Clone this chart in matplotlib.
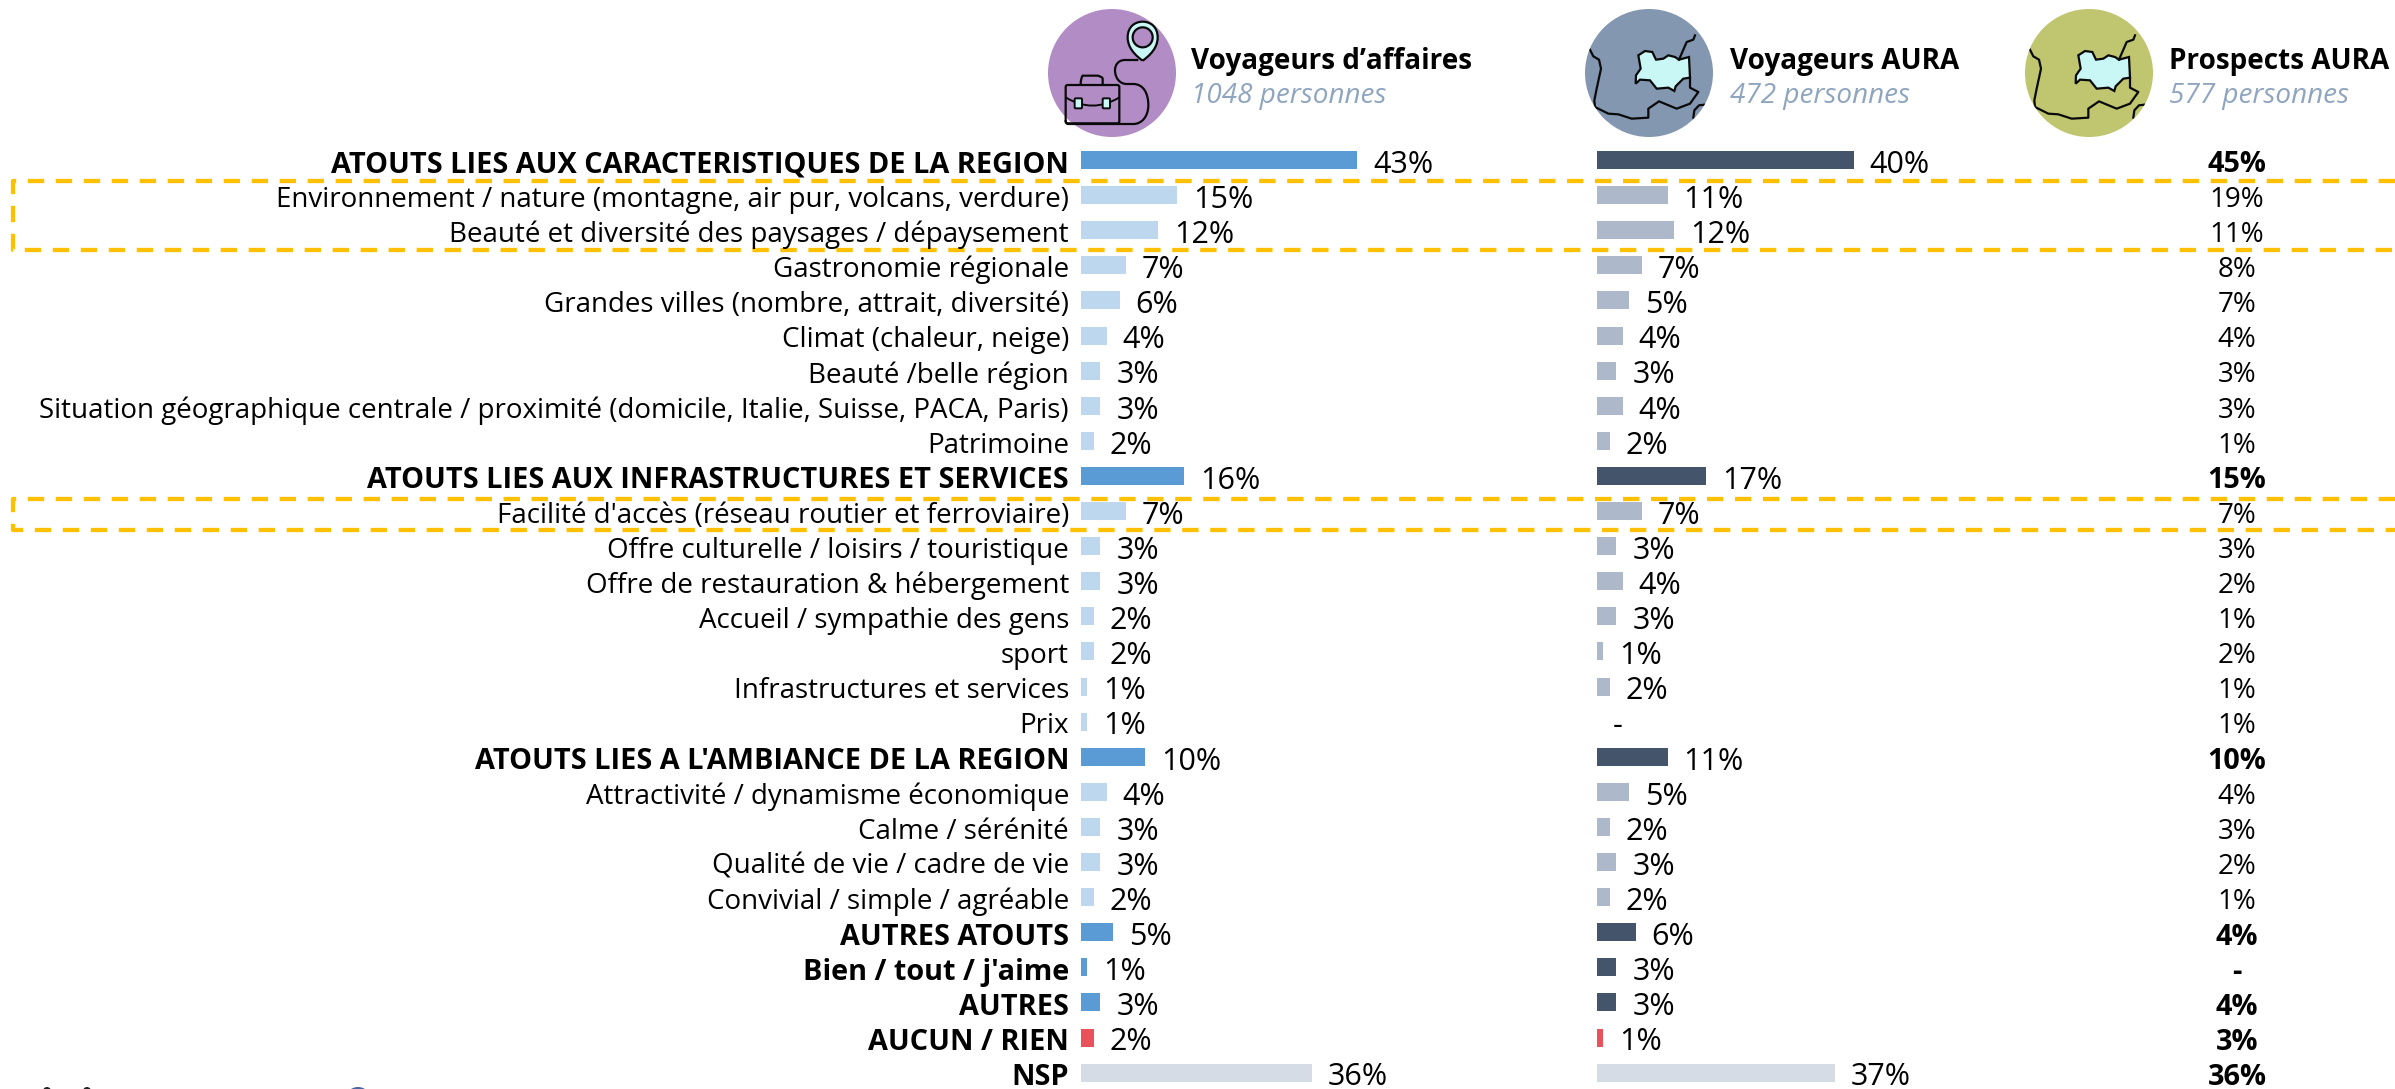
import matplotlib
matplotlib.use("Agg")
import matplotlib.pyplot as plt
from matplotlib.patches import Circle, FancyBboxPatch, Polygon
from matplotlib.path import Path
from matplotlib.patches import PathPatch

plt.rcParams['font.family'] = ['Open Sans', 'DejaVu Sans']

W, H = 2395, 1089

# Rows of the chart
labels = [
    "ATOUTS LIES AUX CARACTERISTIQUES DE LA REGION",
    "Environnement / nature (montagne, air pur, volcans, verdure)",
    "Beauté et diversité des paysages / dépaysement",
    "Gastronomie régionale",
    "Grandes villes (nombre, attrait, diversité)",
    "Climat (chaleur, neige)",
    "Beauté /belle région",
    "Situation géographique centrale / proximité (domicile, Italie, Suisse, PACA, Paris)",
    "Patrimoine",
    "ATOUTS LIES AUX INFRASTRUCTURES ET SERVICES",
    "Facilité d'accès (réseau routier et ferroviaire)",
    "Offre culturelle / loisirs / touristique",
    "Offre de restauration & hébergement",
    "Accueil / sympathie des gens",
    "sport",
    "Infrastructures et services",
    "Prix",
    "ATOUTS LIES A L'AMBIANCE DE LA REGION",
    "Attractivité / dynamisme économique",
    "Calme / sérénité",
    "Qualité de vie / cadre de vie",
    "Convivial / simple / agréable",
    "AUTRES ATOUTS",
    "Bien / tout / j'aime",
    "AUTRES",
    "AUCUN / RIEN",
    "NSP",
]
# h = heading, s = sub item, r = red row, n = NSP row
kinds = list("hssssssss" + "hsssssss" + "hssss" + "hhhrn")

affaires = [43, 15, 12, 7, 6, 4, 3, 3, 2, 16, 7, 3, 3, 2, 2, 1, 1, 10, 4, 3, 3, 2, 5, 1, 3, 2, 36]
aura = [40, 11, 12, 7, 5, 4, 3, 4, 2, 17, 7, 3, 4, 3, 1, 2, None, 11, 5, 2, 3, 2, 6, 3, 3, 1, 37]
prospects = [45, 19, 11, 8, 7, 4, 3, 3, 1, 15, 7, 3, 2, 1, 2, 1, 1, 10, 4, 3, 2, 1, 4, None, 4, 3, 36]

headers = ["Voyageurs d’affaires", "Voyageurs AURA", "Prospects AURA"]
persons = ["1048 personnes", "472 personnes", "577 personnes"]

colors_affaires = {'h': '#5B9BD5', 's': '#BDD7EE', 'r': '#E9525A', 'n': '#D6DCE5'}
colors_aura = {'h': '#44546A', 's': '#ADB9CA', 'r': '#E9525A', 'n': '#D6DCE5'}

ROW0, PITCH = 160, 35.1
PX_PER_PCT = 6.42
AX_TOP = 142
FS = 20
FS_BOLD = 20.8
FS_VALUE = 22
FS_COL3 = 20
FS_COL3_BOLD = 20.8
FS_H = 20.1


def make_ax(left_px, width_px):
    ax = fig.add_axes([left_px / W, 0, width_px / W, (H - AX_TOP) / H])
    ax.set_ylim((H - ROW0) / PITCH, (AX_TOP - ROW0) / PITCH)
    ax.patch.set_visible(False)
    ax.axis('off')
    return ax


def bars(ax, values, colors):
    ys = range(len(values))
    ax.barh(ys, [v or 0 for v in values], height=18 / PITCH,
            color=[colors[k] for k in kinds], linewidth=0)
    for i, v in enumerate(values):
        txt = "-" if v is None else f"{v}%"
        ax.annotate(txt, (v or 0, i), xytext=(11.5, -1), textcoords='offset points',
                    ha='left', va='center_baseline', fontsize=FS_VALUE, color='black')


fig = plt.figure(figsize=(W / 100, H / 100), dpi=100, facecolor='white')

# background layer in pixel coordinates for the boxes and icons
bg = fig.add_axes([0, 0, 1, 1])
bg.set_xlim(0, W)
bg.set_ylim(H, 0)
bg.axis('off')

for top, bottom in [(181, 250), (499, 530)]:
    bg.plot([W, 13, 13, W], [top, top, bottom, bottom], color='#FFC000', lw=3.1,
            linestyle=(0, (3.8, 2.7)), dash_capstyle='butt')

INK = '#0A0A0A'
CYAN = '#C9F7F5'
PURPLE = '#B28DC5'
circles = [(1112, PURPLE), (1649, '#8497B0'), (2089, '#C0C56F')]
for cx, col in circles:
    bg.add_patch(Circle((cx, 73), 64, facecolor=col, edgecolor='none'))

# map icon (offsets from circle centre, 3x)
aura_shape = [(-32, -53), (-12, -66), (10, -63), (21, -40), (43, -43), (58, -53), (78, -48), (90, -40),
              (120, -48), (123, 14), (103, 17), (80, 40), (76, 54), (58, 44), (23, 47), (3, 22),
              (-27, 20), (-40, 32), (-39, 7), (-25, -13)]
borders = [
    [(-177, -70), (-167, -50), (-150, -40), (-144, -13), (-157, 47), (-164, 82), (-162, 102), (-122, 122),
     (-92, 124), (-52, 137), (-2, 134), (-2, 107), (30, 85), (83, 107), (123, 92), (148, 57), (123, 44), (123, 14)],
    [(90, -40), (113, -93), (133, -100), (138, -113)],
    [(133, 134), (136, 112), (150, 97), (166, 95)],
]
for cx, col in circles[1:]:
    clip = Circle((cx, 73), 64, transform=bg.transData)
    bg.add_patch(Polygon([(cx + x / 3, 73 + y / 3) for x, y in aura_shape], closed=True,
                         facecolor=CYAN, edgecolor=INK, lw=1.6))
    for line in borders:
        l, = bg.plot([cx + x / 3 for x, y in line], [73 + y / 3 for x, y in line], color=INK, lw=1.6)
        l.set_clip_path(clip)


# briefcase icon, coordinates are zoom pixels (3x) from (1030, 10)
def zx(x):
    return 1030 + x / 3


def zy(y):
    return 10 + y / 3


def zp(pts):
    return [(zx(x), zy(y)) for x, y in pts]


bg.add_patch(FancyBboxPatch((zx(107), zy(225)), 161 / 3, 115 / 3, boxstyle="round,pad=0,rounding_size=2",
                            facecolor='none', edgecolor=INK, lw=1.6))
handle = Path(zp([(152, 222), (152, 205), (158, 197), (170, 197), (200, 197), (212, 197), (218, 205), (218, 222)]),
              [Path.MOVETO, Path.CURVE3, Path.CURVE3, Path.LINETO, Path.LINETO, Path.CURVE3, Path.CURVE3, Path.LINETO])
bg.add_patch(PathPatch(handle, facecolor='none', edgecolor=INK, lw=1.6))
flap = Path(zp([(107, 262), (160, 295), (215, 295), (268, 262)]), [Path.MOVETO, Path.CURVE4, Path.CURVE4, Path.CURVE4])
bg.add_patch(PathPatch(flap, facecolor='none', edgecolor=INK, lw=1.4))
for x0 in (134, 218):
    bg.add_patch(FancyBboxPatch((zx(x0), zy(265)), 22 / 3, 30 / 3, boxstyle="round,pad=0,rounding_size=1",
                                facecolor=CYAN, edgecolor=INK, lw=1.4))
cable = Path(zp([(325, 150), (285, 150),
                 (265, 150), (255, 165), (255, 180),
                 (255, 205), (270, 222), (290, 222),
                 (310, 222),
                 (340, 222), (355, 250), (355, 285),
                 (355, 320), (335, 342), (310, 342),
                 (115, 342),
                 (110, 342), (107, 338), (107, 330)]),
             [Path.MOVETO, Path.LINETO] + [Path.CURVE4] * 6 + [Path.LINETO] + [Path.CURVE4] * 6
             + [Path.LINETO] + [Path.CURVE4] * 3)
bg.add_patch(PathPatch(cable, facecolor='none', edgecolor=INK, lw=1.6))
pin = Path(zp([(338, 152), (300, 125), (293, 100), (293, 82), (293, 50), (315, 35), (338, 35),
               (361, 35), (383, 50), (383, 82), (383, 100), (376, 125), (338, 152)]),
           [Path.MOVETO] + [Path.CURVE4] * 12)
bg.add_patch(PathPatch(pin, facecolor=CYAN, edgecolor=INK, lw=1.6))
bg.add_patch(Circle((zx(338), zy(82)), 10, facecolor=PURPLE, edgecolor=INK, lw=1.6))

# scraps of a logo cut by the lower edge
for x in (47, 87):
    bg.add_patch(Circle((x, 1091), 4, facecolor='#222222', edgecolor='none'))
bg.add_patch(Circle((358, 1100), 13, facecolor='#4A66A0', edgecolor='none'))

# column headers
for x, head, pers in zip([1191, 1730, 2169], headers, persons):
    bg.text(x, 62, head, fontsize=FS_H, fontweight='bold', ha='left', va='center', color='black')
    bg.text(x, 96, pers, fontsize=FS_H, fontstyle='italic', ha='left', va='center', color='#8FA5BF')

# bars
ax1 = make_ax(1081, 50 * PX_PER_PCT)
ax1.set_xlim(0, 50)
bars(ax1, affaires, colors_affaires)
for i, (label, k) in enumerate(zip(labels, kinds)):
    ax1.annotate(label, (0, i), xytext=(-8.6, -1), textcoords='offset points', ha='right',
                 va='center_baseline', color='black', annotation_clip=False,
                 fontweight='normal' if k == 's' else 'bold', fontsize=FS if k == 's' else FS_BOLD)

ax2 = make_ax(1597, 50 * PX_PER_PCT)
ax2.set_xlim(0, 50)
bars(ax2, aura, colors_aura)

ax3 = make_ax(2137, 200)
ax3.set_xlim(0, 1)
for i, v in enumerate(prospects):
    txt = "-" if v is None else f"{v}%"
    ax3.annotate(txt, (0.5, i), xytext=(0, -1), textcoords='offset points', ha='center',
                 va='center_baseline', color='black',
                 fontweight='normal' if kinds[i] == 's' else 'bold',
                 fontsize=FS_COL3 if kinds[i] == 's' else FS_COL3_BOLD)

fig.savefig('out.png', dpi=100)
